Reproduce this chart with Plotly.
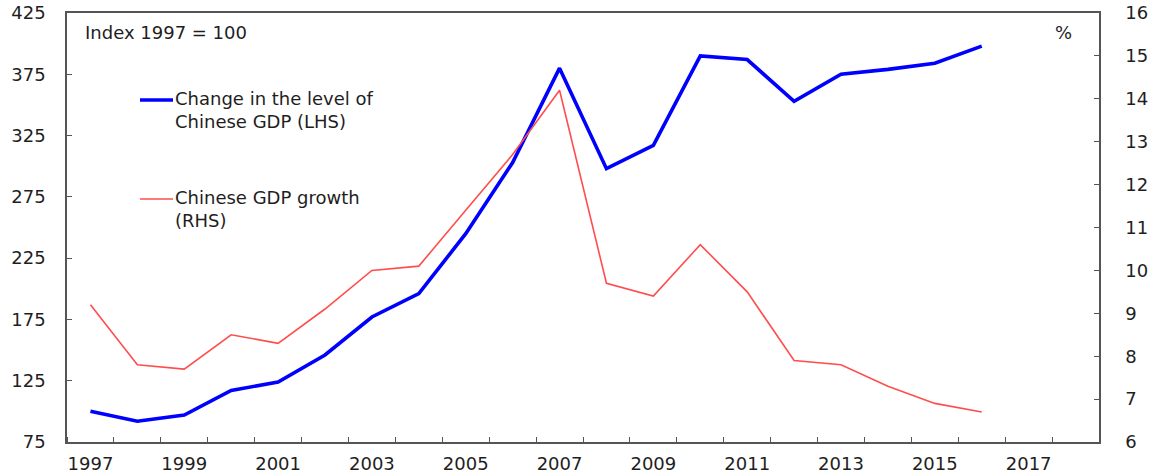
import plotly.graph_objects as go

years = list(range(1997, 2017))
gdp_level = [100, 92, 97, 117, 124, 146, 177, 196, 245, 303, 380, 298, 317, 390, 387, 353, 375, 379, 384, 398]
gdp_growth = [9.2, 7.8, 7.7, 8.5, 8.3, 9.1, 10.0, 10.1, 11.4, 12.7, 14.2, 9.7, 9.4, 10.6, 9.5, 7.9, 7.8, 7.3, 6.9, 6.7]
x_tick_labels = [str(y) for y in range(1997, 2018, 2)]
x_tick_vals = list(range(1997, 2018, 2))
left_ticks = [75, 125, 175, 225, 275, 325, 375, 425]
right_ticks = list(range(6, 17))

FONT = "DejaVu Sans"
FS = 18
AX = "#555555"
TXT = "#1e1e1e"

fig = go.Figure()
fig.add_trace(go.Scatter(x=years, y=gdp_growth, mode="lines", yaxis="y2",
                         line=dict(color="#ff4d4d", width=1.6), name="Chinese GDP growth (RHS)"))
fig.add_trace(go.Scatter(x=years, y=gdp_level, mode="lines", yaxis="y",
                         line=dict(color="#0000ff", width=3.6), name="Change in the level of Chinese GDP (LHS)"))

W, H = 1151, 474
L, R, T, B = 67, 52, 13, 32
pw, ph = W - L - R, H - T - B

def px(x):
    return (x - L) / pw

def py(y):
    return (H - B - y) / ph

fig.update_layout(
    width=W, height=H,
    margin=dict(l=L, r=R, t=T, b=B, autoexpand=False),
    paper_bgcolor="white", plot_bgcolor="white",
    showlegend=False,
    font=dict(family=FONT, size=FS, color=TXT),
    xaxis=dict(range=[1996.5, 2018.5], tickvals=x_tick_vals, ticktext=x_tick_labels,
               ticks="", showgrid=False, zeroline=False, automargin=False,
               showline=True, linecolor=AX, linewidth=1.5, mirror=True,
               ticklabelstandoff=5,
               minor=dict(ticks="inside", tick0=1996.5, dtick=1, ticklen=5,
                          tickcolor=AX, tickwidth=1.2, showgrid=False),
               tickfont=dict(family=FONT, size=FS, color=TXT)),
    yaxis=dict(range=[75, 425], tickvals=left_ticks, ticks="inside", ticklen=5,
               tickcolor=AX, tickwidth=1.2, showgrid=False, zeroline=False, automargin=False,
               showline=True, linecolor=AX, linewidth=1.5,
               ticklabelstandoff=16,
               tickfont=dict(family=FONT, size=FS, color=TXT)),
    yaxis2=dict(range=[6, 16], tickvals=right_ticks, ticks="inside", ticklen=5,
                tickcolor=AX, tickwidth=1.2, showgrid=False, zeroline=False, automargin=False,
                showline=True, linecolor=AX, linewidth=1.5,
                overlaying="y", side="right", ticklabelstandoff=21,
                tickfont=dict(family=FONT, size=FS, color=TXT)),
)

fig.add_annotation(x=px(83), y=py(32), xref="paper", yref="paper", text="Index 1997 = 100",
                   showarrow=False, xanchor="left", yanchor="middle",
                   font=dict(family=FONT, size=FS, color=TXT))
fig.add_annotation(x=px(1063), y=py(32), xref="paper", yref="paper", text="%",
                   showarrow=False, xanchor="center", yanchor="middle",
                   font=dict(family=FONT, size=FS, color=TXT))

fig.add_shape(type="line", xref="paper", yref="paper", x0=px(140), x1=px(173), y0=py(100), y1=py(100),
              line=dict(color="#0000ff", width=3.6))
fig.add_annotation(x=px(173), y=py(110), xref="paper", yref="paper",
                   text="Change in the level of<br>Chinese GDP (LHS)",
                   showarrow=False, xanchor="left", yanchor="middle", align="left",
                   font=dict(family=FONT, size=FS, color=TXT))
fig.add_shape(type="line", xref="paper", yref="paper", x0=px(140), x1=px(173), y0=py(199), y1=py(199),
              line=dict(color="#ff4d4d", width=1.6))
fig.add_annotation(x=px(173), y=py(209), xref="paper", yref="paper",
                   text="Chinese GDP growth<br>(RHS)",
                   showarrow=False, xanchor="left", yanchor="middle", align="left",
                   font=dict(family=FONT, size=FS, color=TXT))

fig.write_html("out.html")
